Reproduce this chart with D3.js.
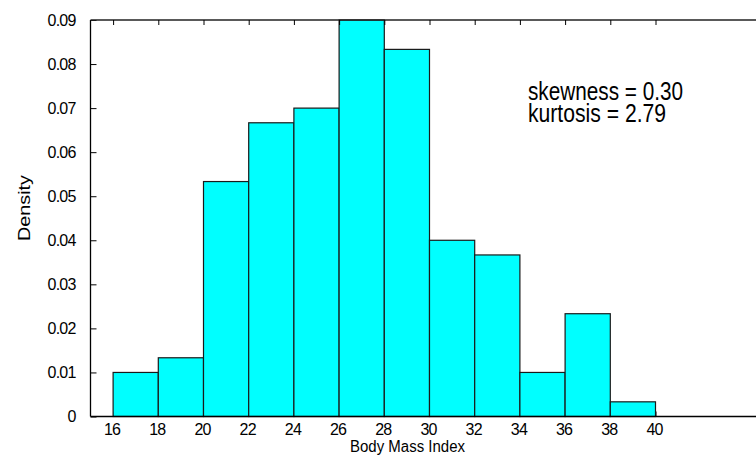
<!DOCTYPE html>
<html>
<head>
<meta charset="utf-8">
<script src="https://cdn.jsdelivr.net/npm/d3@7"></script>
<style>
html,body{margin:0;padding:0;background:#fff;}
svg{display:block;}
text{font-family:"Liberation Sans",Arial,sans-serif;fill:#000;}
</style>
</head>
<body>
<svg id="chart" width="756" height="457"></svg>
<script>
// Data: histogram bins (lower edge) and density values
const binStarts = [16,18,20,22,24,26,28,30,32,34,36,38,40];
const binWidth = 2;
const densities = [0.01,0.01333,0.05333,0.06667,0.07,0.09,0.08333,0.04,0.03667,0.01,0.02333,0.00333,0];
const xTicks = [16,18,20,22,24,26,28,30,32,34,36,38,40];
const yTicks = [0,0.01,0.02,0.03,0.04,0.05,0.06,0.07,0.08,0.09];
const xLabel = "Body Mass Index";
const yLabel = "Density";
const annotations = ["skewness = 0.30","kurtosis = 2.79"];

const svg = d3.select("#chart");
const x = d3.scaleLinear().domain([15,45]).range([90.5,768.5]);
const y = d3.scaleLinear().domain([0,0.09]).range([416.5,20]);

// bottom inward ticks (behind bars)
const bottomAxis = d3.axisBottom(x).tickValues(xTicks).tickSize(-5).tickFormat("");
svg.append("g").attr("transform",`translate(0,${y(0)})`).call(bottomAxis)
  .call(g=>g.select(".domain").remove())
  .call(g=>g.selectAll("line").attr("stroke","#000"));

// bars
svg.append("g").selectAll("rect").data(binStarts).join("rect")
  .attr("x",(d)=>x(d))
  .attr("width",x(binStarts[0]+binWidth)-x(binStarts[0]))
  .attr("y",(d,i)=>y(densities[i]))
  .attr("height",(d,i)=>y(0)-y(densities[i]))
  .attr("fill","#00ffff")
  .attr("stroke",(d,i)=>densities[i]===0?"#777":"#1a1a1a")
  .attr("stroke-width",1.2);

// left axis
const leftAxis = d3.axisLeft(y).tickValues(yTicks).tickSize(-6).tickPadding(15)
  .tickFormat(d=>d===0?"0":d3.format(".2f")(d));
svg.append("g").attr("transform",`translate(${x(15)},0)`).call(leftAxis)
  .call(g=>g.select(".domain").attr("stroke","#000").attr("stroke-width",1.3).attr("d",`M0,${y(0.09)}V${y(0)}`))
  .call(g=>g.selectAll("line").attr("stroke","#000"))
  .call(g=>g.selectAll("text").attr("font-size",16).attr("letter-spacing","-0.8px")
    .attr("font-family","'Liberation Sans',Arial,sans-serif").attr("fill","#000"));

// top axis
const topAxis = d3.axisTop(x).tickValues(xTicks).tickSize(-5).tickFormat("");
svg.append("g").attr("transform",`translate(0,${y(0.09)})`).call(topAxis)
  .call(g=>g.select(".domain").attr("stroke","#222").attr("stroke-width",1.5).attr("d",`M${x(15)},0H770`))
  .call(g=>g.selectAll("line").attr("stroke","#000"));

// bottom axis line and labels
svg.append("line").attr("x1",x(15)).attr("x2",770).attr("y1",y(0)).attr("y2",y(0))
  .attr("stroke","#000").attr("stroke-width",1.5);
svg.append("g").selectAll("text").data(xTicks).join("text")
  .attr("x",d=>x(d)-1).attr("y",434.5).attr("text-anchor","middle")
  .attr("font-size",16).attr("letter-spacing","-0.8px").text(d=>d);

// axis titles
svg.append("text").attr("x",407.5).attr("y",451.5).attr("text-anchor","middle")
  .attr("font-size",16).attr("textLength",115).attr("lengthAdjust","spacingAndGlyphs").text(xLabel);
svg.append("text").attr("transform","translate(29.5,208) rotate(-90)").attr("text-anchor","middle")
  .attr("font-size",16).attr("textLength",66).attr("lengthAdjust","spacingAndGlyphs").text(yLabel);

// annotations
svg.append("text").attr("x",528).attr("y",99.5).attr("font-size",26)
  .attr("textLength",155).attr("lengthAdjust","spacingAndGlyphs").text(annotations[0]);
svg.append("text").attr("x",528).attr("y",121.7).attr("font-size",26)
  .attr("textLength",138).attr("lengthAdjust","spacingAndGlyphs").text(annotations[1]);
</script>
</body>
</html>
